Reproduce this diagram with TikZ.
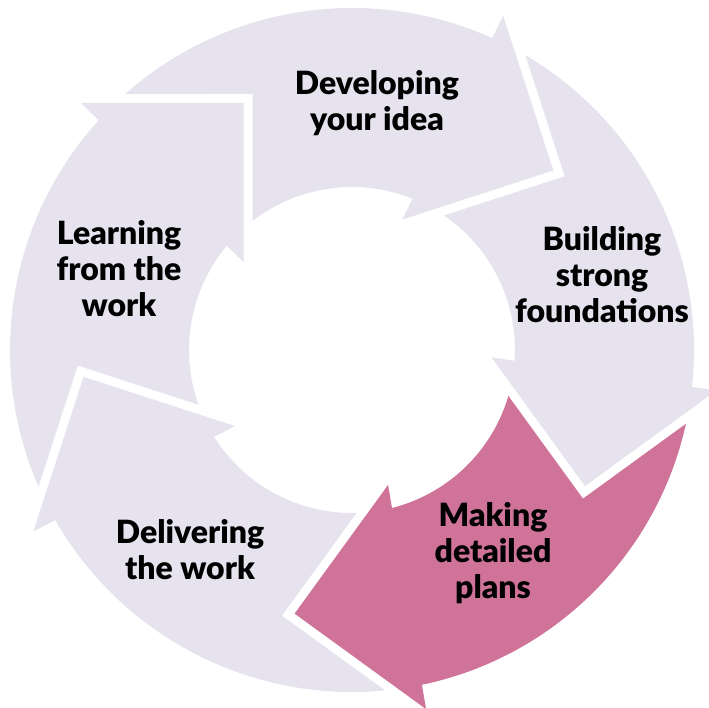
\documentclass[tikz,border=0pt]{standalone}
\usepackage{fontspec}
\setmainfont{Lato}
\newfontfamily\lblfont{Lato Black}
\definecolor{ringgray}{HTML}{E6E3EE}
\definecolor{ringpink}{HTML}{CF7399}
\begin{document}
\begin{tikzpicture}[x=1pt,y=1pt,
  lbl/.style={font=\lblfont\fontsize{32}{36}\selectfont, align=center, text=black, inner sep=0pt}]
\useasboundingbox (0,0) rectangle (709,707);
\fill[white] (0,0) rectangle (709,707);
\foreach \k/\col in {0/ringgray,1/ringgray,2/ringgray,3/ringpink,4/ringgray}{
  \begin{scope}[shift={(352,357)}, rotate=-72*\k]
    \fill[\col] (203.54:342pt) arc[start angle=203.54, end angle=137.8, radius=342pt]
      -- (-271,247) -- (-108.5,247) -- (-108.5,88)
      -- (140.2:163pt) arc[start angle=140.2, end angle=199.62, radius=163pt]
      -- (-274.22,-15.52) -- cycle;
  \end{scope}
}
\node[lbl] (dev) at (377,603.5) {Developing\\your idea};
\node[lbl] (bld) at (602,432.5) {Building\\strong\\foundations};
\node[lbl] (lrn) at (119,438.5) {Learning\\from the\\work};
\node[lbl] (mak) at (493,153.5) {Making\\detailed\\plans};
\node[lbl] (del) at (190,157) {Delivering\\the work};
\end{tikzpicture}
\end{document}
